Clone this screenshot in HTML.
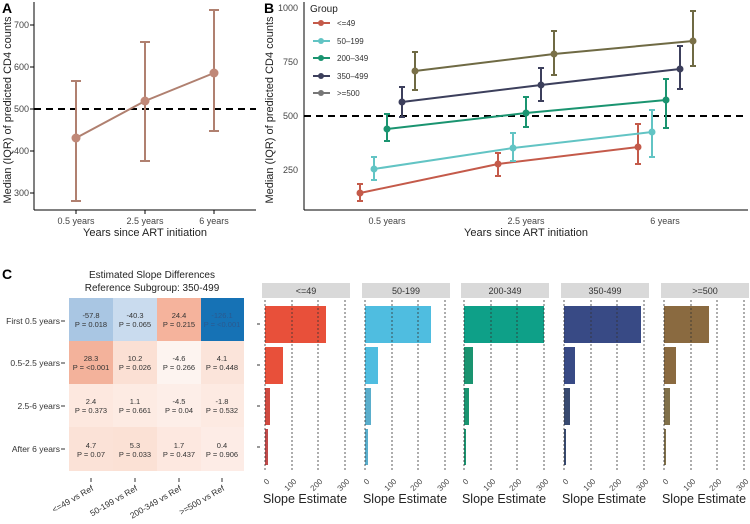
<!DOCTYPE html>
<html><head><meta charset="utf-8"><style>body{margin:0;background:#fff}svg{display:block;font-family:"Liberation Sans",sans-serif}</style></head><body>
<svg width="750" height="524" viewBox="0 0 750 524" xmlns="http://www.w3.org/2000/svg">
<!-- Panel A -->
<text x="2" y="13" font-size="14" font-weight="bold">A</text>
<line x1="34" y1="2" x2="34" y2="210" stroke="#000"/>
<line x1="34" y1="210" x2="256" y2="210" stroke="#000"/>
<g font-size="9" fill="#444" text-anchor="end">
<text x="29" y="28">700</text><text x="29" y="70">600</text><text x="29" y="112">500</text><text x="29" y="154">400</text><text x="29" y="196">300</text></g>
<g stroke="#000"><line x1="30" y1="25" x2="34" y2="25"/><line x1="30" y1="67" x2="34" y2="67"/><line x1="30" y1="109" x2="34" y2="109"/><line x1="30" y1="151" x2="34" y2="151"/><line x1="30" y1="193" x2="34" y2="193"/>
<line x1="76" y1="210" x2="76" y2="214"/><line x1="145" y1="210" x2="145" y2="214"/><line x1="214" y1="210" x2="214" y2="214"/></g>
<g font-size="9" fill="#444" text-anchor="middle"><text x="76" y="224">0.5 years</text><text x="145" y="224">2.5 years</text><text x="214" y="224">6 years</text></g>
<text x="145" y="236" font-size="11" text-anchor="middle" fill="#222">Years since ART initiation</text>
<text transform="translate(11,110) rotate(-90)" font-size="11" text-anchor="middle" fill="#222">Median (IQR) of predicted CD4 counts</text>
<line x1="34" y1="109" x2="256" y2="109" stroke="#000" stroke-width="2" stroke-dasharray="7,5"/>
<g stroke="#b08070" stroke-width="2" fill="none">
<path d="M76 81V201M71 81h10M71 201h10M145 42V161M140 42h10M140 161h10M214 10V131M209 10h10M209 131h10"/>
<polyline points="76,138 145,101 214,73"/></g>
<g fill="#c08878"><circle cx="76" cy="138" r="4.5"/><circle cx="145" cy="101" r="4.5"/><circle cx="214" cy="73" r="4.5"/></g>

<!-- Panel B -->
<text x="264" y="13" font-size="14" font-weight="bold">B</text>
<line x1="304" y1="2" x2="304" y2="210" stroke="#000"/>
<line x1="304" y1="210" x2="748" y2="210" stroke="#000"/>
<g font-size="9" fill="#444" text-anchor="end"><text x="298" y="11">1000</text><text x="298" y="65">750</text><text x="298" y="119">500</text><text x="298" y="173">250</text></g>
<g font-size="9" fill="#444" text-anchor="middle"><text x="387" y="224">0.5 years</text><text x="526" y="224">2.5 years</text><text x="665" y="224">6 years</text></g>
<text x="526" y="236" font-size="11" text-anchor="middle" fill="#222">Years since ART initiation</text>
<text transform="translate(273,110) rotate(-90)" font-size="11" text-anchor="middle" fill="#222">Median (IQR) of predicted CD4 counts</text>
<line x1="304" y1="116" x2="748" y2="116" stroke="#000" stroke-width="2" stroke-dasharray="7,5"/>
<g stroke-width="2" fill="none">
<g stroke="#c45a4a"><path d="M360 184V201M357 184h6M357 201h6M498 153V176M495 153h6M495 176h6M638 124V164M635 124h6M635 164h6"/><polyline points="360,193 498,164 638,147"/></g>
<g stroke="#62c4c4"><path d="M374 157V180M371 157h6M371 180h6M513 133V161M510 133h6M510 161h6M652 110V157M649 110h6M649 157h6"/><polyline points="374,169 513,148 652,132"/></g>
<g stroke="#1a9470"><path d="M387 114V141M384 114h6M384 141h6M526 97V127M523 97h6M523 127h6M666 79V128M663 79h6M663 128h6"/><polyline points="387,129 526,113 666,100"/></g>
<g stroke="#3c3f5c"><path d="M402 87V117M399 87h6M399 117h6M541 68V101M538 68h6M538 101h6M680 46V89M677 46h6M677 89h6"/><polyline points="402,102 541,85 680,69"/></g>
<g stroke="#6f6a44"><path d="M415 52V90M412 52h6M412 90h6M554 31V75M551 31h6M551 75h6M693 11V66M690 11h6M690 66h6"/><polyline points="415,71 554,54 693,41"/></g>
</g>
<g fill="#c45a4a"><circle cx="360" cy="193" r="3.5"/><circle cx="498" cy="164" r="3.5"/><circle cx="638" cy="147" r="3.5"/></g>
<g fill="#62c4c4"><circle cx="374" cy="169" r="3.5"/><circle cx="513" cy="148" r="3.5"/><circle cx="652" cy="132" r="3.5"/></g>
<g fill="#1a9470"><circle cx="387" cy="129" r="3.5"/><circle cx="526" cy="113" r="3.5"/><circle cx="666" cy="100" r="3.5"/></g>
<g fill="#3c3f5c"><circle cx="402" cy="102" r="3.5"/><circle cx="541" cy="85" r="3.5"/><circle cx="680" cy="69" r="3.5"/></g>
<g fill="#7a7048"><circle cx="415" cy="71" r="3.5"/><circle cx="554" cy="54" r="3.5"/><circle cx="693" cy="41" r="3.5"/></g>
<text x="310" y="12" font-size="10" fill="#222">Group</text>
<g stroke-width="2"><line x1="313" y1="23" x2="330" y2="23" stroke="#c45a4a"/><line x1="313" y1="41" x2="330" y2="41" stroke="#62c4c4"/><line x1="313" y1="58" x2="330" y2="58" stroke="#1a9470"/><line x1="313" y1="76" x2="330" y2="76" stroke="#3c3f5c"/><line x1="313" y1="93" x2="330" y2="93" stroke="#777"/></g>
<g><circle cx="321" cy="23" r="3" fill="#c45a4a"/><circle cx="321" cy="41" r="3" fill="#62c4c4"/><circle cx="321" cy="58" r="3" fill="#1a9470"/><circle cx="321" cy="76" r="3" fill="#3c3f5c"/><circle cx="321" cy="93" r="3" fill="#777"/></g>
<g font-size="8" fill="#333"><text x="337" y="26">&lt;=49</text><text x="337" y="44">50–199</text><text x="337" y="61">200–349</text><text x="337" y="79">350–499</text><text x="337" y="96">&gt;=500</text></g>

<!-- Panel C heatmap -->
<text x="2" y="279" font-size="14" font-weight="bold">C</text>
<g font-size="10" text-anchor="middle" fill="#222"><text x="152" y="278">Estimated Slope Differences</text><text x="152" y="291">Reference Subgroup: 350-499</text></g>
<g>
<rect x="69" y="298" width="44" height="43" fill="#a9c6e3"/><rect x="113" y="298" width="44" height="43" fill="#c9dbee"/><rect x="157" y="298" width="44" height="43" fill="#f5b39c"/><rect x="201" y="298" width="43" height="43" fill="#1672b5"/>
<rect x="69" y="341" width="44" height="43" fill="#f3b29b"/><rect x="113" y="341" width="44" height="43" fill="#fbe0d4"/><rect x="157" y="341" width="44" height="43" fill="#fdf4f0"/><rect x="201" y="341" width="43" height="43" fill="#fbe4da"/>
<rect x="69" y="384" width="44" height="43" fill="#fde8df"/><rect x="113" y="384" width="44" height="43" fill="#fdebe3"/><rect x="157" y="384" width="44" height="43" fill="#fdeee8"/><rect x="201" y="384" width="43" height="43" fill="#fdeae2"/>
<rect x="69" y="427" width="44" height="44" fill="#fbe2d7"/><rect x="113" y="427" width="44" height="44" fill="#fbe1d5"/><rect x="157" y="427" width="44" height="44" fill="#fde8e0"/><rect x="201" y="427" width="43" height="44" fill="#fdece6"/>
</g>
<g font-size="7.5" text-anchor="middle" fill="#333">
<text x="91" y="318">-57.8</text><text x="91" y="327">P = 0.018</text><text x="135" y="318">-40.3</text><text x="135" y="327">P = 0.065</text><text x="179" y="318">24.4</text><text x="179" y="327">P = 0.215</text><text x="222" y="318" fill="#2a5a90">-126.1</text><text x="222" y="327" fill="#2a5a90">P = &lt;0.001</text>
<text x="91" y="361">28.3</text><text x="91" y="370">P = &lt;0.001</text><text x="135" y="361">10.2</text><text x="135" y="370">P = 0.026</text><text x="179" y="361">-4.6</text><text x="179" y="370">P = 0.266</text><text x="222" y="361">4.1</text><text x="222" y="370">P = 0.448</text>
<text x="91" y="404">2.4</text><text x="91" y="413">P = 0.373</text><text x="135" y="404">1.1</text><text x="135" y="413">P = 0.661</text><text x="179" y="404">-4.5</text><text x="179" y="413">P = 0.04</text><text x="222" y="404">-1.8</text><text x="222" y="413">P = 0.532</text>
<text x="91" y="448">4.7</text><text x="91" y="457">P = 0.07</text><text x="135" y="448">5.3</text><text x="135" y="457">P = 0.033</text><text x="179" y="448">1.7</text><text x="179" y="457">P = 0.437</text><text x="222" y="448">0.4</text><text x="222" y="457">P = 0.906</text>
</g>
<g font-size="8.5" text-anchor="end" fill="#333"><text x="60" y="324">First 0.5 years</text><text x="60" y="366">0.5-2.5 years</text><text x="60" y="409">2.5-6 years</text><text x="60" y="452">After 6 years</text></g>
<g stroke="#333"><line x1="61" y1="321" x2="65" y2="321"/><line x1="61" y1="363" x2="65" y2="363"/><line x1="61" y1="406" x2="65" y2="406"/><line x1="61" y1="449" x2="65" y2="449"/>
<line x1="91" y1="478" x2="91" y2="482"/><line x1="135" y1="478" x2="135" y2="482"/><line x1="179" y1="478" x2="179" y2="482"/><line x1="222" y1="478" x2="222" y2="482"/></g>
<g font-size="8.5" text-anchor="end" fill="#333">
<text transform="translate(94,490) rotate(-30)">&lt;=49 vs Ref</text><text transform="translate(138,490) rotate(-30)">50-199 vs Ref</text><text transform="translate(182,490) rotate(-30)">200-349 vs Ref</text><text transform="translate(225,490) rotate(-30)">&gt;=500 vs Ref</text></g>
<g stroke="#333"><line x1="257" y1="324" x2="260" y2="324"/><line x1="257" y1="365" x2="260" y2="365"/><line x1="257" y1="406" x2="260" y2="406"/><line x1="257" y1="447" x2="260" y2="447"/></g>

<!-- Facets -->
<g id="facets">
<g transform="translate(262,0)">
<rect x="0" y="283" width="88" height="15" fill="#d9d9d9"/><text x="44" y="294" font-size="9" text-anchor="middle" fill="#333">&lt;=49</text>
<rect x="3" y="306" width="61" height="37" fill="#e8503a"/><rect x="3" y="347" width="18" height="37" fill="#e8503a"/><rect x="3" y="388" width="5" height="37" fill="#d04a40"/><rect x="3" y="429" width="3" height="36" fill="#c04a4a"/>
</g>
<g transform="translate(362,0)">
<rect x="0" y="283" width="88" height="15" fill="#d9d9d9"/><text x="44" y="294" font-size="9" text-anchor="middle" fill="#333">50-199</text>
<rect x="3" y="306" width="66" height="37" fill="#4fbde0"/><rect x="3" y="347" width="13" height="37" fill="#4fbde0"/><rect x="3" y="388" width="6" height="37" fill="#5aaecc"/><rect x="3" y="429" width="3" height="36" fill="#5aaecc"/>
</g>
<g transform="translate(461,0)">
<rect x="0" y="283" width="88" height="15" fill="#d9d9d9"/><text x="44" y="294" font-size="9" text-anchor="middle" fill="#333">200-349</text>
<rect x="3" y="306" width="80" height="37" fill="#0ea088"/><rect x="3" y="347" width="9" height="37" fill="#1a9470"/><rect x="3" y="388" width="5" height="37" fill="#1a9470"/><rect x="3" y="429" width="2" height="36" fill="#1a9470"/>
</g>
<g transform="translate(561,0)">
<rect x="0" y="283" width="88" height="15" fill="#d9d9d9"/><text x="44" y="294" font-size="9" text-anchor="middle" fill="#333">350-499</text>
<rect x="3" y="306" width="77" height="37" fill="#384a85"/><rect x="3" y="347" width="11" height="37" fill="#384a85"/><rect x="3" y="388" width="6" height="37" fill="#384a70"/><rect x="3" y="429" width="2" height="36" fill="#384a70"/>
</g>
<g transform="translate(661,0)">
<rect x="0" y="283" width="88" height="15" fill="#d9d9d9"/><text x="44" y="294" font-size="9" text-anchor="middle" fill="#333">&gt;=500</text>
<rect x="3" y="306" width="45" height="37" fill="#8a6a40"/><rect x="3" y="347" width="12" height="37" fill="#8a6a40"/><rect x="3" y="388" width="6" height="37" fill="#80704a"/><rect x="3" y="429" width="2" height="36" fill="#80704a"/>
</g>
</g>
<g stroke="#333" stroke-width="0.8" stroke-dasharray="2,2">
<path d="M265 300V470M292 300V470M318 300V470M345 300V470 M365 300V470M392 300V470M418 300V470M445 300V470 M464 300V470M491 300V470M517 300V470M544 300V470 M564 300V470M591 300V470M617 300V470M644 300V470 M664 300V470M691 300V470M717 300V470M744 300V470"/></g>
<g font-size="8" fill="#444" text-anchor="end">
<text transform="translate(270,482) rotate(-45)">0</text><text transform="translate(297,482) rotate(-45)">100</text><text transform="translate(323,482) rotate(-45)">200</text><text transform="translate(350,482) rotate(-45)">300</text>
<text transform="translate(370,482) rotate(-45)">0</text><text transform="translate(397,482) rotate(-45)">100</text><text transform="translate(423,482) rotate(-45)">200</text><text transform="translate(450,482) rotate(-45)">300</text>
<text transform="translate(469,482) rotate(-45)">0</text><text transform="translate(496,482) rotate(-45)">100</text><text transform="translate(522,482) rotate(-45)">200</text><text transform="translate(549,482) rotate(-45)">300</text>
<text transform="translate(569,482) rotate(-45)">0</text><text transform="translate(596,482) rotate(-45)">100</text><text transform="translate(622,482) rotate(-45)">200</text><text transform="translate(649,482) rotate(-45)">300</text>
<text transform="translate(669,482) rotate(-45)">0</text><text transform="translate(696,482) rotate(-45)">100</text><text transform="translate(722,482) rotate(-45)">200</text><text transform="translate(749,482) rotate(-45)">300</text></g>
<g font-size="12.5" fill="#222" text-anchor="middle"><text x="305" y="503">Slope Estimate</text><text x="405" y="503">Slope Estimate</text><text x="504" y="503">Slope Estimate</text><text x="604" y="503">Slope Estimate</text><text x="704" y="503">Slope Estimate</text></g>
</svg>
</body></html>
